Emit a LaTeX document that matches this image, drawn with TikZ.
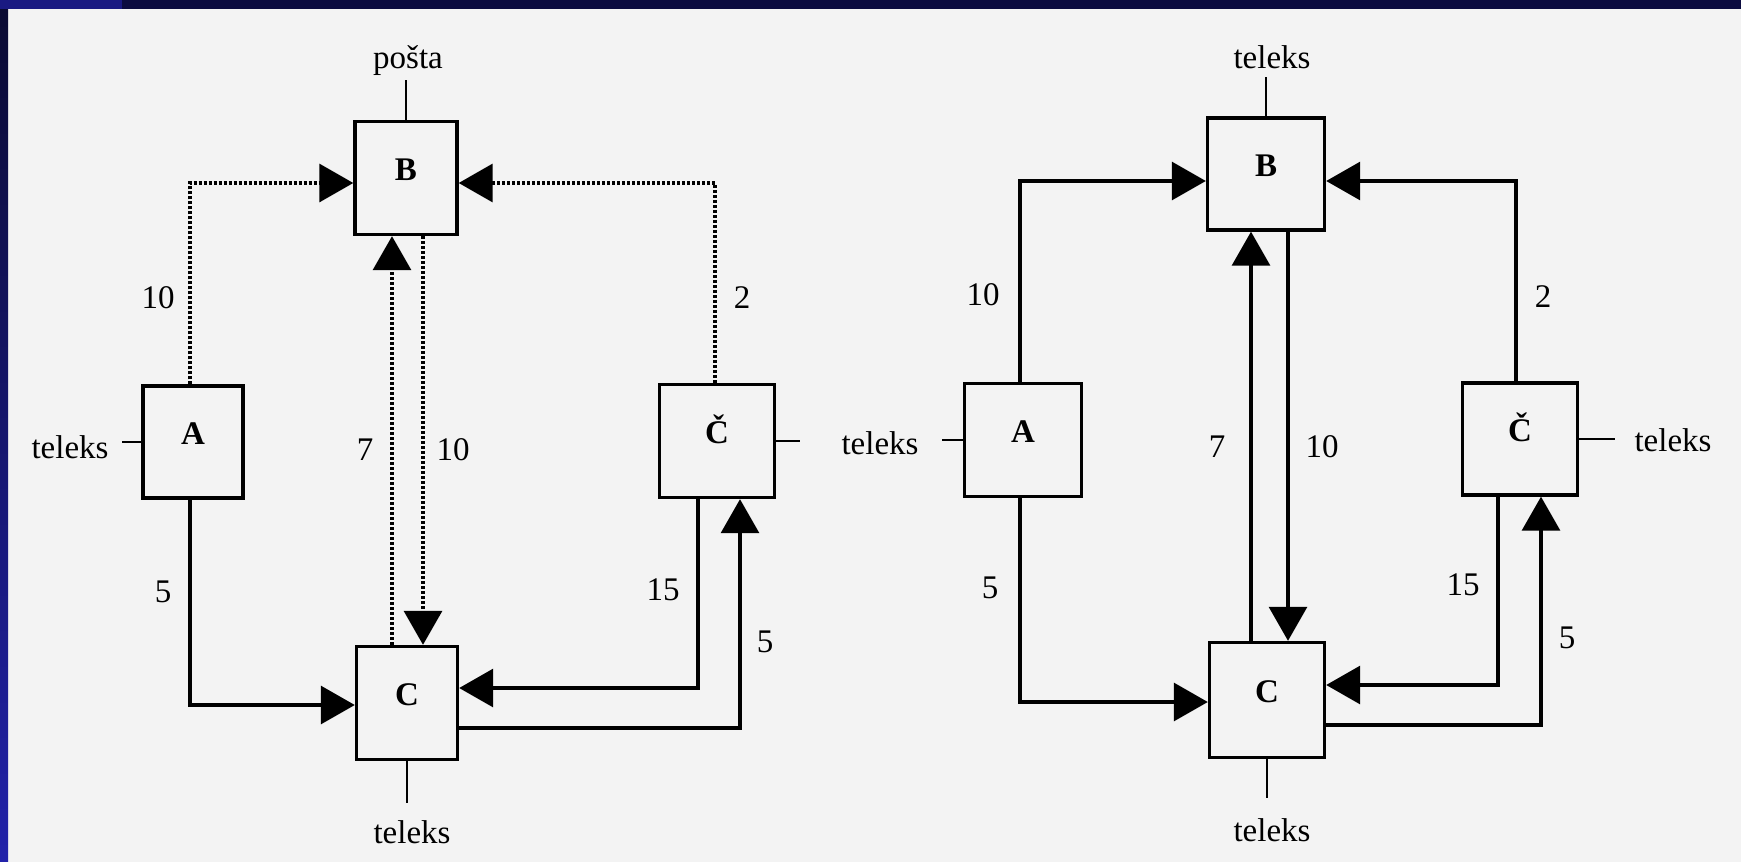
\documentclass[tikz,border=0pt]{standalone}
\usepackage{fontspec}
\setmainfont{Liberation Serif}
\usetikzlibrary{arrows.meta}
\definecolor{paper}{RGB}{243,243,243}
\definecolor{navy}{RGB}{12,12,64}
\definecolor{midblue}{RGB}{26,26,130}
\definecolor{darknavy}{RGB}{10,10,50}
\definecolor{edgeblue}{RGB}{34,34,170}
\begin{document}
\begin{tikzpicture}[x=1pt,y=-1pt,
  every node/.style={font=\fontsize{33}{38}\selectfont},
  box/.style={draw, line width=3.4pt, rectangle, fill=none, font=\fontsize{33}{38}\selectfont\bfseries, text height=22pt, text depth=18pt, inner sep=0pt},
  conn/.style={line width=3.2pt},
  dotconn/.style={line width=3.4pt, dash pattern=on 3pt off 2pt},
  tip/.style={-{Triangle[length=34pt,width=38pt]}},
  term/.style={line width=2.2pt},
  lbl/.style={inner sep=0pt}]
% background and frame
\fill[paper] (0,0) rectangle (1741,862);
\fill[navy] (0,0) rectangle (1741,9);
\fill[midblue] (0,0) rectangle (122,9);
\shade[top color=darknavy, bottom color=edgeblue] (0,9) rectangle (8,862);
\useasboundingbox (0,0) rectangle (1741,862);

% ---------- left diagram ----------
\node[box, minimum width=102pt, minimum height=113pt] (B1) at (406,178) {B};
\node[box, minimum width=100pt, minimum height=112pt] (A1) at (193,442) {A};
\node[box, minimum width=101pt, minimum height=113pt] (C1) at (407,703) {C};
\node[box, minimum width=115pt, minimum height=113pt] (Cc1) at (717,441) {Č};

\coordinate (tB1) at (406,80);
\coordinate (tA1) at (122,442);
\coordinate (tC1) at (407,803);
\coordinate (tCc1) at (800,441);
\draw[term] (B1.north) -- (tB1);
\draw[term] (A1.west) -- (tA1);
\draw[term] (C1.south) -- (tC1);
\draw[term] (Cc1.east) -- (tCc1);
\node[lbl] (posta) at (408,61) {pošta};
\node[lbl] (telA1) at (70,447) {teleks};
\node[lbl] (telC1) at (412,832) {teleks};
\node[lbl] (telMid) at (880,443) {teleks};

\draw[dotconn,tip] ([xshift=-3pt]A1.north) |- ([yshift=-5pt]B1.west);
\draw[dotconn,tip] ([xshift=-2pt]Cc1.north) |- ([yshift=-5pt]B1.east);
\draw[dotconn,tip] ([xshift=-15pt]C1.north) -- ([xshift=-14pt]B1.south);
\draw[dotconn,tip] ([xshift=17pt]B1.south) -- ([xshift=16pt]C1.north);
\draw[conn,tip] ([xshift=-3pt]A1.south) |- ([yshift=-2pt]C1.west);
\draw[conn,tip] ([xshift=-19pt]Cc1.south) |- ([yshift=15pt]C1.east);
\draw[conn,tip] ([yshift=-25pt]C1.east) -| ([xshift=23pt]Cc1.south);

\node[lbl] (l1a) at (158,298) {10};
\node[lbl] (l1b) at (742,298) {2};
\node[lbl] (l1c) at (365,450) {7};
\node[lbl] (l1d) at (453,450) {10};
\node[lbl] (l1e) at (163,592) {5};
\node[lbl] (l1f) at (663,590) {15};
\node[lbl] (l1g) at (765,642) {5};

% ---------- right diagram ----------
\node[box, minimum width=117pt, minimum height=112pt] (B2) at (1266,174) {B};
\node[box, minimum width=117pt, minimum height=113pt] (A2) at (1023,440) {A};
\node[box, minimum width=115pt, minimum height=115pt] (C2) at (1267,700) {C};
\node[box, minimum width=115pt, minimum height=112pt] (Cc2) at (1520,439) {Č};

\coordinate (tB2) at (1266,77);
\coordinate (tA2) at (942,440);
\coordinate (tC2) at (1267,798);
\coordinate (tCc2) at (1615,439);
\draw[term] (B2.north) -- (tB2);
\draw[term] (A2.west) -- (tA2);
\draw[term] (C2.south) -- (tC2);
\draw[term] (Cc2.east) -- (tCc2);
\node[lbl] (telB2) at (1272,57) {teleks};
\node[lbl] (telC2) at (1272,830) {teleks};
\node[lbl] (telCc2) at (1673,440) {teleks};

\draw[conn,tip] ([xshift=-3pt]A2.north) |- ([yshift=-7pt]B2.west);
\draw[conn,tip] ([xshift=-4pt]Cc2.north) |- ([yshift=-7pt]B2.east);
\draw[conn,tip] ([xshift=-16pt]C2.north) -- ([xshift=-15pt]B2.south);
\draw[conn,tip] ([xshift=22pt]B2.south) -- ([xshift=21pt]C2.north);
\draw[conn,tip] ([xshift=-3pt]A2.south) |- ([yshift=-2pt]C2.west);
\draw[conn,tip] ([xshift=-22pt]Cc2.south) |- ([yshift=15pt]C2.east);
\draw[conn,tip] ([yshift=-25pt]C2.east) -| ([xshift=21pt]Cc2.south);

\node[lbl] (l2a) at (983,295) {10};
\node[lbl] (l2b) at (1543,297) {2};
\node[lbl] (l2c) at (1217,447) {7};
\node[lbl] (l2d) at (1322,447) {10};
\node[lbl] (l2e) at (990,588) {5};
\node[lbl] (l2f) at (1463,585) {15};
\node[lbl] (l2g) at (1567,638) {5};
\end{tikzpicture}
\end{document}
